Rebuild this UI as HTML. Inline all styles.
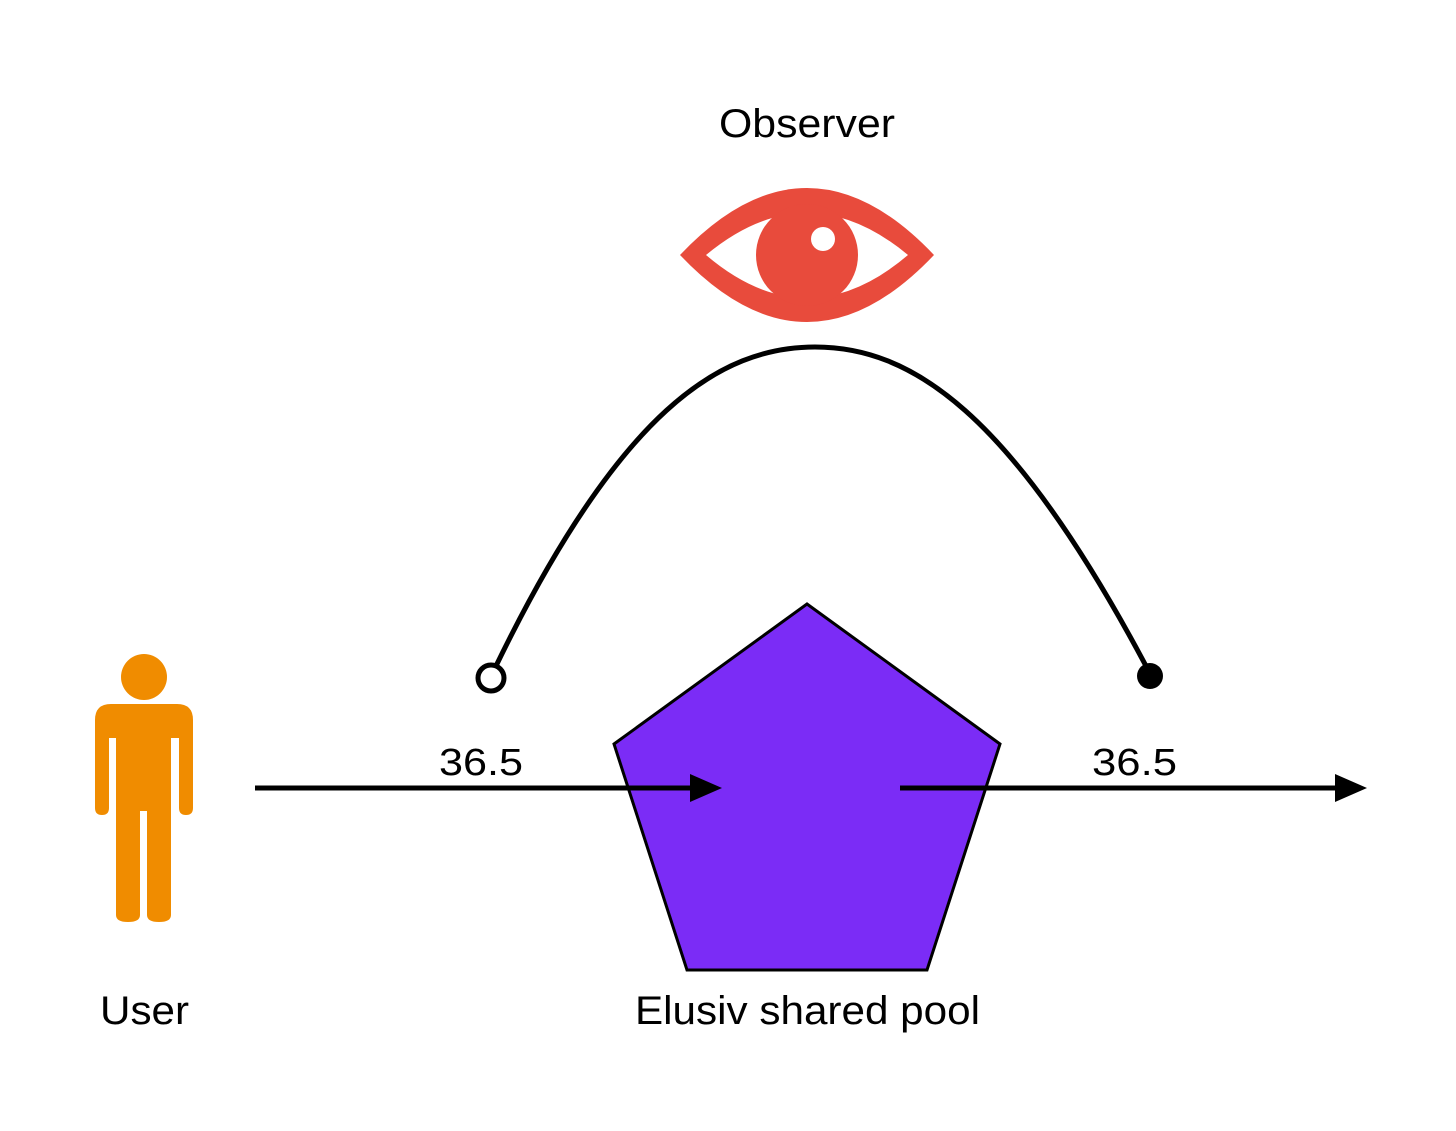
<!DOCTYPE html>
<html><head><style>
html,body{margin:0;padding:0;background:#fff;}
svg{display:block;}
text{font-family:"Liberation Sans",sans-serif;fill:#000;}
</style></head><body>
<svg width="1456" height="1131" viewBox="0 0 1456 1131" xmlns="http://www.w3.org/2000/svg">
<rect width="1456" height="1131" fill="#fff"/>
<text x="719" y="137" font-size="40" textLength="176" lengthAdjust="spacingAndGlyphs">Observer</text>
<path d="M680,255 Q807,121 934,255 Q807,389 680,255 Z" fill="#E84B3C"/>
<path d="M706,255 Q807,171 908,255 Q807,341 706,255 Z" fill="#fff"/>
<circle cx="807" cy="255" r="51" fill="#E84B3C"/>
<circle cx="823" cy="239" r="12" fill="#fff"/>
<path d="M496,666 C620,410 720,347 815,347 C910,347 1010,410 1146,666" fill="none" stroke="#000" stroke-width="5"/>
<circle cx="491" cy="678" r="13" fill="#fff" stroke="#000" stroke-width="5"/>
<circle cx="1150" cy="676" r="13" fill="#000"/>
<polygon points="807,604 1000,744 927,970 687,970 614,744" fill="#7B2CF6" stroke="#000" stroke-width="3"/>
<line x1="255" y1="788" x2="695" y2="788" stroke="#000" stroke-width="5"/>
<polygon points="722,788 690,774 690,802" fill="#000"/>
<line x1="900" y1="788" x2="1340" y2="788" stroke="#000" stroke-width="5"/>
<polygon points="1367,788 1335,774 1335,802" fill="#000"/>
<text x="439" y="775" font-size="38" textLength="84" lengthAdjust="spacingAndGlyphs">36.5</text>
<text x="1092" y="775" font-size="38" textLength="85" lengthAdjust="spacingAndGlyphs">36.5</text>
<g fill="#F08C00">
<circle cx="144" cy="677" r="23"/>
<path d="M95,720 Q95,704 111,704 L177,704 Q193,704 193,720 L193,808 Q193,815 186,815 Q179,815 179,808 L179,738 L171,738 L171,915 Q171,922 159,922 Q147,922 147,915 L147,811 L140,811 L140,915 Q140,922 128,922 Q116,922 116,915 L116,738 L109,738 L109,808 Q109,815 102,815 Q95,815 95,808 Z"/>
</g>
<text x="100" y="1024" font-size="40" textLength="89" lengthAdjust="spacingAndGlyphs">User</text>
<text x="635" y="1024" font-size="40" textLength="345" lengthAdjust="spacingAndGlyphs">Elusiv shared pool</text>
</svg>
</body></html>
